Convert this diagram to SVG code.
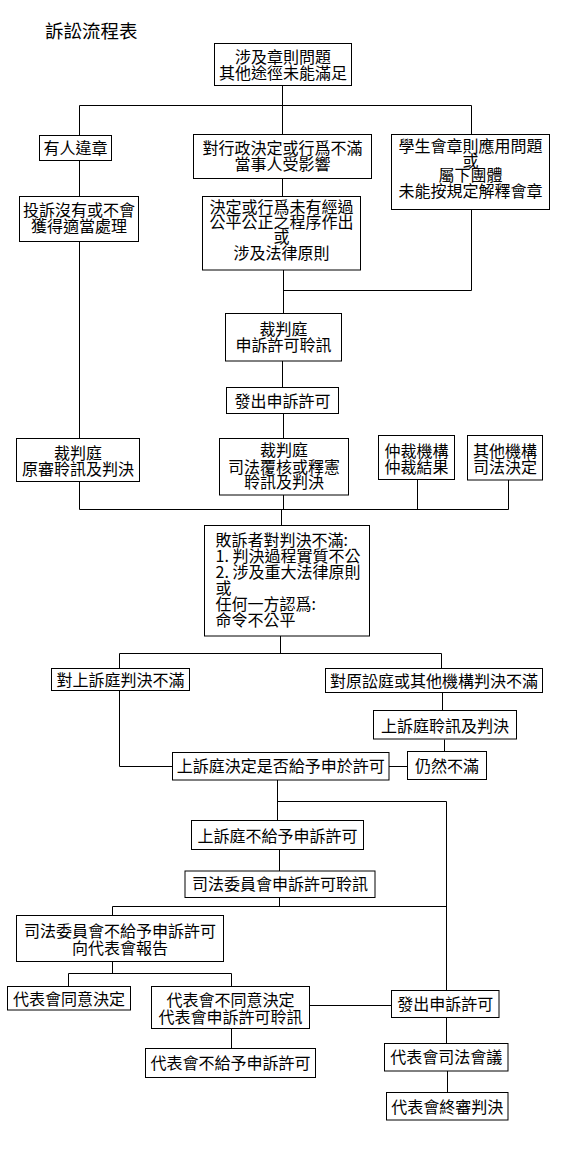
<svg xmlns="http://www.w3.org/2000/svg" width="565" height="1163" viewBox="0 0 565 1163">
<style>
rect{fill:#fff;stroke:#000;stroke-width:1}
text{font-family:"Noto Sans CJK TC","Noto Sans CJK SC",sans-serif;font-size:16px;fill:#000;text-anchor:middle}
.l{text-anchor:start}
#connectors path{fill:none;stroke:#000;stroke-width:1}
</style>
<rect x="0" y="0" width="565" height="1163" style="stroke:none"/>
<text x="45" y="38" class="l" style="font-size:18.5px">訴訟流程表</text>
<g id="connectors">
<path d="M282.5,85.5V105.5M79.5,105.5H471.5M79.5,105.5V135.5M282.5,105.5V134.5M471.5,105.5V134.5"/>
<path d="M79.5,160.5V196.5M79.5,241.5V438.5"/>
<path d="M282.5,178.5V196.5"/>
<path d="M283.5,270V313.5M283.5,290.5H471.5M471.5,209.5V290.5"/>
<path d="M282.5,361V387.5M283.5,413.5V438.5"/>
<path d="M79.5,481.5V509.5M283.5,495V509.5M417.5,479.5V509.5M508.5,480V509.5M79.5,509.5H508.5"/>
<path d="M281.5,509.5V525.5"/>
<path d="M280.5,636V653.5M119.5,653.5H441.5M119.5,653.5V668.5M441.5,653.5V668.5"/>
<path d="M442.5,692.5V710.5M444.5,739.5V751.5"/>
<path d="M119.5,690.5V766.5H172.5M389,766.5H407.5"/>
<path d="M277.5,780V820.5M277.5,801.5H446.5M446.5,801.5V990.5"/>
<path d="M279.5,849.5V871M279.5,897.5V906.5M112.5,906.5H446.5M112.5,906.5V915.5"/>
<path d="M112.5,961.5V973.5M68.5,973.5H231.5M68.5,973.5V986.5M231.5,973.5V986.5"/>
<path d="M310,1005.5H391.5"/>
<path d="M231.5,1028.5V1048.5"/>
<path d="M446.5,1017.5V1043.5M447.5,1071V1092.5"/>
</g>
<g id="n1"><rect x="214.5" y="43.5" width="137" height="42"/><text x="283" y="62.5">涉及章則問題</text><text x="283" y="78.5">其他途徑未能滿足</text></g>
<g id="n2"><rect x="39.5" y="135.5" width="72" height="25"/><text x="75.5" y="154">有人違章</text></g>
<g id="n3"><rect x="19.5" y="196.5" width="119" height="45"/><text x="79" y="216">投訴沒有或不會</text><text x="79" y="231.5">獲得適當處理</text></g>
<g id="n4"><rect x="193.5" y="134.5" width="178" height="44"/><text x="282.5" y="153.5">對行政決定或行爲不滿</text><text x="282.5" y="170">當事人受影響</text></g>
<g id="n5"><rect x="202.5" y="196.5" width="158" height="73.5"/><text x="281.5" y="212.5">決定或行爲未有經過</text><text x="281.5" y="228">公平公正之程序作出</text><text x="281.5" y="242.5">或</text><text x="281.5" y="259">涉及法律原則</text></g>
<g id="n6"><rect x="391.5" y="134.5" width="158" height="75"/><text x="470.5" y="151.5">學生會章則應用問題</text><text x="470.5" y="166.5">或</text><text x="470.5" y="181">屬下團體</text><text x="470.5" y="196.5">未能按規定解釋會章</text></g>
<g id="n7"><rect x="225.5" y="313.5" width="116" height="47.5"/><text x="283.5" y="334.5">裁判庭</text><text x="283.5" y="351">申訴許可聆訊</text></g>
<g id="n8"><rect x="226.5" y="387.5" width="112" height="26"/><text x="282.5" y="406.5">發出申訴許可</text></g>
<g id="n9"><rect x="16.5" y="438.5" width="123" height="43"/><text x="78" y="458.5">裁判庭</text><text x="78" y="474.5">原審聆訊及判決</text></g>
<g id="n10"><rect x="219.5" y="438.5" width="129" height="56.5"/><text x="284" y="456">裁判庭</text><text x="284" y="472.5">司法覆核或釋憲</text><text x="284" y="487.5">聆訊及判決</text></g>
<g id="n11"><rect x="378.5" y="435.5" width="76" height="44"/><text x="416.5" y="457">仲裁機構</text><text x="416.5" y="472.5">仲裁結果</text></g>
<g id="n12"><rect x="467.5" y="435.5" width="75" height="44.5"/><text x="505" y="457">其他機構</text><text x="505" y="472.5">司法決定</text></g>
<g id="n13"><rect x="204.5" y="525.5" width="165" height="110.5"/><text class="l" x="215.5" y="545.7">敗訴者對判決不滿:</text><text class="l" x="215.5" y="561.7">1. 判決過程實質不公</text><text class="l" x="215.5" y="577.7">2. 涉及重大法律原則</text><text class="l" x="215.5" y="593.7">或</text><text class="l" x="215.5" y="609.7">任何一方認爲:</text><text class="l" x="215.5" y="625.7">命令不公平</text></g>
<g id="n14"><rect x="51.5" y="668.5" width="138" height="22"/><text x="120.5" y="686">對上訴庭判決不滿</text></g>
<g id="n15"><rect x="325.5" y="668.5" width="217" height="24"/><text x="434" y="687">對原訟庭或其他機構判決不滿</text></g>
<g id="n16"><rect x="373.5" y="710.5" width="143" height="28.5"/><text x="445" y="731.5">上訴庭聆訊及判決</text></g>
<g id="n17"><rect x="172.5" y="752.5" width="216.5" height="27.5"/><text x="280.75" y="771.5">上訴庭決定是否給予申於許可</text></g>
<g id="n18"><rect x="407.5" y="751.5" width="79" height="28"/><text x="447" y="771.5">仍然不滿</text></g>
<g id="n19"><rect x="191.5" y="820.5" width="172" height="29"/><text x="277.5" y="841.5">上訴庭不給予申訴許可</text></g>
<g id="n20"><rect x="185" y="871" width="190" height="26.5"/><text x="280" y="890">司法委員會申訴許可聆訊</text></g>
<g id="n21"><rect x="16.5" y="915.5" width="207" height="46"/><text x="120" y="937">司法委員會不給予申訴許可</text><text x="120" y="954">向代表會報告</text></g>
<g id="n22"><rect x="7.5" y="986.5" width="123" height="23.5"/><text x="69" y="1005">代表會同意決定</text></g>
<g id="n23"><rect x="151.5" y="986.5" width="158" height="42"/><text x="230.5" y="1006">代表會不同意決定</text><text x="230.5" y="1022.5">代表會申訴許可聆訊</text></g>
<g id="n24"><rect x="391.5" y="990.5" width="107.5" height="27"/><text x="445.25" y="1009.5">發出申訴許可</text></g>
<g id="n25"><rect x="145.5" y="1048.5" width="170" height="29"/><text x="230.5" y="1069">代表會不給予申訴許可</text></g>
<g id="n26"><rect x="384.5" y="1043.5" width="123.5" height="27.5"/><text x="446.25" y="1062.5">代表會司法會議</text></g>
<g id="n27"><rect x="386.5" y="1092.5" width="121.5" height="27.5"/><text x="447.25" y="1112.5">代表會終審判決</text></g>
</svg>
